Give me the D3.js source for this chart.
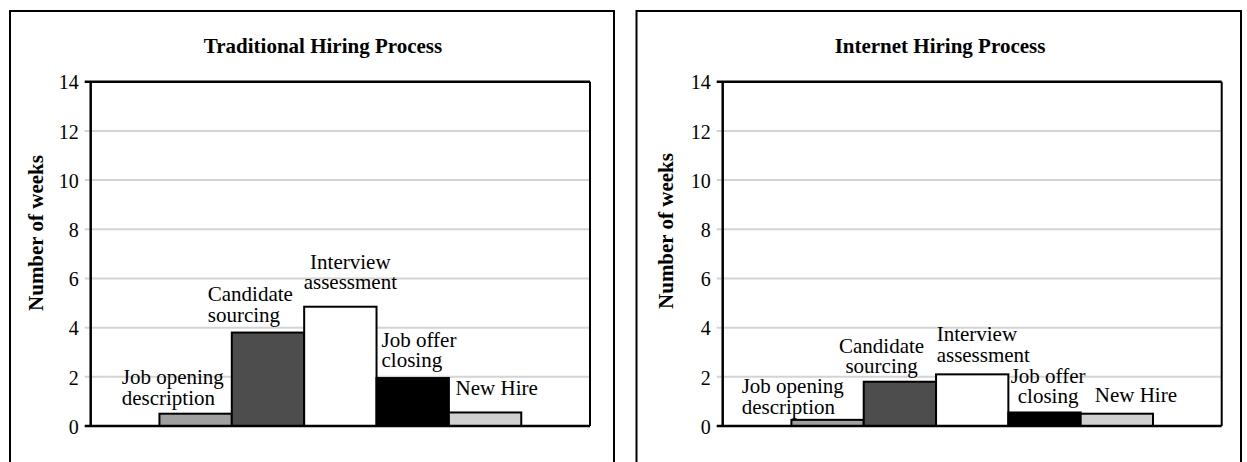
<!DOCTYPE html>
<html>
<head>
<meta charset="utf-8">
<script src="https://cdn.jsdelivr.net/npm/d3@7"></script>
<style>
  html, body { margin: 0; padding: 0; background: #fff; }
  svg { display: block; }
  text { font-family: "Liberation Serif", "Times New Roman", serif; fill: #000; }
</style>
</head>
<body>
<svg id="chart" width="1247" height="462"></svg>
<script>
// ---- data ----
const panelTitles = ["Traditional Hiring Process", "Internet Hiring Process"];
const categories = ["Job opening description", "Candidate sourcing", "Interview assessment", "Job offer closing", "New Hire"];
const categoryLines = [["Job opening", "description"], ["Candidate", "sourcing"], ["Interview", "assessment"], ["Job offer", "closing"], ["New Hire"]];
const traditionalWeeks = [0.5, 3.8, 4.85, 1.95, 0.55];
const internetWeeks = [0.25, 1.8, 2.1, 0.55, 0.5];
const yTicks = [0, 2, 4, 6, 8, 10, 12, 14];
const yAxisTitle = "Number of weeks";

// ---- styling ----
const barFills = ["#a0a0a0", "#4d4d4d", "#ffffff", "#000000", "#d0d0d0"];
const gridColor = "#d4d4d4";
const serif = "'Liberation Serif', 'Times New Roman', serif";

// ---- layout for each panel ----
const panels = [
  {
    title: panelTitles[0], values: traditionalWeeks,
    box: { x: 10, y: 11, w: 604, h: 480 },
    plot: { x: 90.7, y: 81.7, w: 499.3, h: 344.3 },
    titleX: 323, yTitleX: 43.3, yTitleY: 233,
    labels: [
      { ref: "left", dx: -37.7, anchor: "start", gap: 8.7 },
      { ref: "left", dx: -24, anchor: "start", gap: 10.7 },
      { ref: "center", dx: 10, anchor: "middle", gap: 17.3 },
      { ref: "left", dx: 5, anchor: "start", gap: 10.8 },
      { ref: "left", dx: 6.7, anchor: "start", gap: 17 }
    ]
  },
  {
    title: panelTitles[1], values: internetWeeks,
    box: { x: 636.5, y: 11, w: 604.5, h: 480 },
    plot: { x: 722.7, y: 81.7, w: 499, h: 344.3 },
    titleX: 940, yTitleX: 672.7, yTitleY: 231,
    labels: [
      { ref: "left", dx: -49.7, anchor: "start", gap: 6 },
      { ref: "center", dx: -18.3, anchor: "middle", gap: 8.4 },
      { ref: "left", dx: 0.6, anchor: "start", gap: 12.8 },
      { ref: "center", dx: 3.6, anchor: "middle", gap: 9.4 },
      { ref: "left", dx: 14.1, anchor: "start", gap: 12 }
    ]
  }
];

const svg = d3.select("#chart");
const lineHeight = 20.5;

panels.forEach(p => {
  // outer panel border
  svg.append("rect")
    .attr("x", p.box.x).attr("y", p.box.y)
    .attr("width", p.box.w).attr("height", p.box.h)
    .attr("fill", "none").attr("stroke", "#000").attr("stroke-width", 2);

  // panel title
  svg.append("text")
    .attr("x", p.titleX).attr("y", 53.3)
    .attr("text-anchor", "middle")
    .style("font-family", serif)
    .attr("font-size", 21).attr("font-weight", "bold")
    .text(p.title);

  // y-axis title
  svg.append("text")
    .attr("transform", `translate(${p.yTitleX},${p.yTitleY}) rotate(-90)`)
    .attr("text-anchor", "middle")
    .style("font-family", serif)
    .attr("font-size", 21).attr("font-weight", "bold")
    .text(yAxisTitle);

  const g = svg.append("g").attr("transform", `translate(${p.plot.x},${p.plot.y})`);

  const x = d3.scaleBand().domain(categories).range([0, p.plot.w])
    .paddingInner(0).paddingOuter(0.95);
  const y = d3.scaleLinear().domain([0, 14]).range([p.plot.h, 0]);

  // horizontal gridlines (extend left as tick marks)
  g.selectAll("line.grid")
    .data(yTicks.filter(t => t > 0 && t < 14))
    .join("line").attr("class", "grid")
    .attr("x1", -6).attr("x2", p.plot.w)
    .attr("y1", d => y(d)).attr("y2", d => y(d))
    .attr("stroke", gridColor).attr("stroke-width", 2);

  // tick labels
  const axis = d3.axisLeft(y).tickValues(yTicks).tickSize(0).tickPadding(12);
  const ag = g.append("g").call(axis);
  ag.select(".domain").remove();
  ag.selectAll("text")
    .style("font-family", serif)
    .attr("font-size", 20).attr("fill", "#000").attr("dy", "0.36em");

  // bars
  const data = categories.map((c, i) => ({ c, v: p.values[i], i }));
  g.selectAll("rect.bar").data(data).join("rect").attr("class", "bar")
    .attr("x", d => x(d.c)).attr("width", x.bandwidth())
    .attr("y", d => y(d.v)).attr("height", d => y(0) - y(d.v))
    .attr("fill", d => barFills[d.i])
    .attr("stroke", "#000").attr("stroke-width", 2);

  // plot frame: left axis, right edge, top and bottom lines
  g.append("line").attr("x1", -6).attr("x2", p.plot.w).attr("y1", y(14)).attr("y2", y(14))
    .attr("stroke", "#000").attr("stroke-width", 2.5);
  g.append("line").attr("x1", -6).attr("x2", p.plot.w).attr("y1", y(0)).attr("y2", y(0))
    .attr("stroke", "#000").attr("stroke-width", 2.5);
  g.append("line").attr("x1", 0).attr("x2", 0).attr("y1", y(14)).attr("y2", y(0))
    .attr("stroke", "#000").attr("stroke-width", 2.5);
  g.append("line").attr("x1", p.plot.w).attr("x2", p.plot.w).attr("y1", y(14)).attr("y2", y(0))
    .attr("stroke", "#000").attr("stroke-width", 2);

  // category labels above bars
  data.forEach(d => {
    const L = p.labels[d.i];
    const lines = categoryLines[d.i];
    const ax = (L.ref === "center" ? x(d.c) + x.bandwidth() / 2 : x(d.c)) + L.dx;
    const lastBase = y(d.v) - L.gap;
    const t = g.append("text")
      .attr("text-anchor", L.anchor)
      .style("font-family", serif)
      .attr("font-size", 21);
    lines.forEach((ln, k) => {
      t.append("tspan")
        .attr("x", ax)
        .attr("y", lastBase - (lines.length - 1 - k) * lineHeight)
        .text(ln);
    });
  });
});
</script>
</body>
</html>
